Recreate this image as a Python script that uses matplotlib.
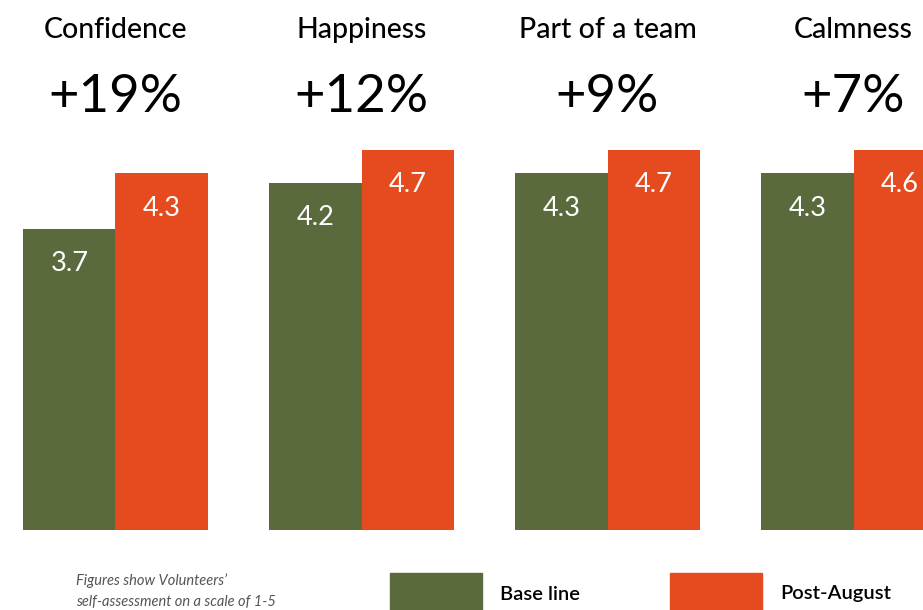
import numpy as np
import matplotlib
matplotlib.use("Agg")
from matplotlib import pyplot as plt
from matplotlib.patches import Rectangle
from matplotlib import transforms

# data
categories = ["Confidence", "Happiness", "Part of a team", "Calmness"]
changes = ["+19%", "+12%", "+9%", "+7%"]
baseline = [3.7, 4.2, 4.3, 4.3]
post_august = [4.3, 4.7, 4.7, 4.6]
series_names = ["Base line", "Post-August"]

GREEN = "#5B6A3D"
ORANGE = "#E54B1F"
FONT = "Lato"

W, H = 923, 610
fig = plt.figure(figsize=(W / 100, H / 100), dpi=100)
fig.patch.set_facecolor("white")

# axes placed in pixel units of the reference
ax = fig.add_axes([0 / W, (H - 530) / H, 923 / W, 380 / H])
ax.set_xlim(-0.4695, 3.2825)
ax.set_ylim(0.47, 4.55)
ax.axis("off")

x = np.arange(len(categories))
width = 0.374
ax.bar(x - width / 2, baseline, width, color=GREEN, label=series_names[0])
ax.bar(x + width / 2, post_august, width, color=ORANGE, label=series_names[1])

top = ax.get_ylim()[1]
for i in range(len(categories)):
    for dx, val in [(-width / 2, baseline[i]), (width / 2, post_august[i])]:
        ax.annotate(f"{val:.1f}", xy=(x[i] + dx, min(val, top)),
                    xytext=(0, -25), textcoords="offset points",
                    ha="center", va="center", color="white",
                    fontsize=19.5, family=FONT)

trans = transforms.blended_transform_factory(ax.transData, ax.transAxes)
for i, (cat, ch) in enumerate(zip(categories, changes)):
    ax.text(x[i], 1.316, cat, transform=trans, ha="center", va="center",
            fontsize=20.5, family=FONT, weight="medium", color="black",
            clip_on=False)
    ax.text(x[i], 1.139, ch, transform=trans, ha="center", va="center",
            fontsize=38, family=FONT, color="black", clip_on=False)

# footnote
fig.text(76 / W, 1 - 581 / H, "Figures show Volunteers\u2019", fontsize=10.5,
         style="italic", color="#555555", family=FONT, va="center")
fig.text(76 / W, 1 - 602 / H, "self-assessment on a scale of 1-5", fontsize=10.5,
         style="italic", color="#555555", family=FONT, va="center")

# legend swatches
for x0, col, name in [(390, GREEN, series_names[0]), (670, ORANGE, series_names[1])]:
    fig.add_artist(Rectangle((x0 / W, 0), 92 / W, (H - 573) / H,
                             transform=fig.transFigure, color=col))
    fig.text((x0 + 110) / W, 1 - 594 / H, name, fontsize=14.5, family=FONT,
             weight="semibold", color="black", va="center")

fig.savefig("out.png", dpi=100)
